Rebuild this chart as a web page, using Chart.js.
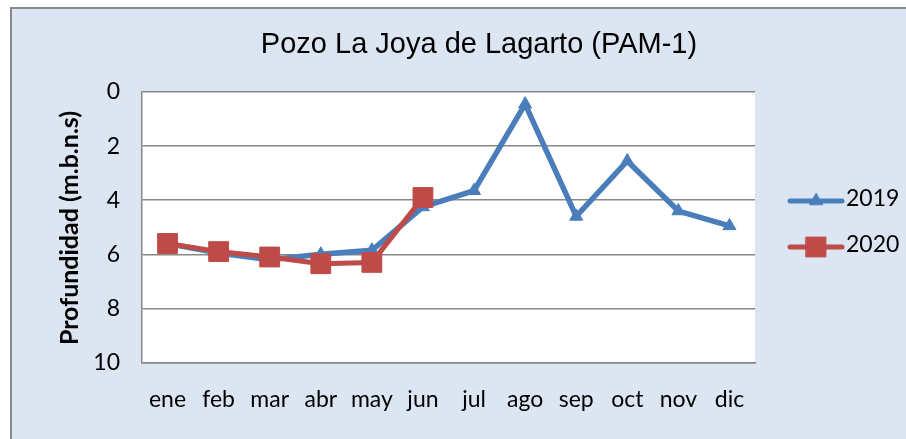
<!DOCTYPE html>
<html><head><meta charset="utf-8">
<script src="https://cdn.jsdelivr.net/npm/chart.js@4/dist/chart.umd.min.js"></script>
<style>html,body{margin:0;padding:0;background:#fff;overflow:hidden}canvas{display:block}</style>
</head><body>
<canvas id="c" width="906" height="439"></canvas>
<script>
const chartTitle = 'Pozo La Joya de Lagarto (PAM-1)';
const yAxisTitle = 'Profundidad (m.b.n.s)';
const months = ['ene','feb','mar','abr','may','jun','jul','ago','sep','oct','nov','dic'];
const seriesNames = ['2019','2020'];
const values2019 = [5.6, 5.95, 6.2, 6.0, 5.85, 4.25, 3.65, 0.45, 4.6, 2.55, 4.4, 4.95];
const values2020 = [5.6, 5.9, 6.1, 6.35, 6.3, 3.9, null, null, null, null, null, null];
const yMin = 0, yMax = 10, yStep = 2;

const BLUE = '#4A7EBB', RED = '#BE4B48';
const LABEL_FONT = 'Lato';
const LABEL_SIZE = 23;

function drawMarker(ctx, style, x, y, r, color) {
  ctx.save();
  ctx.fillStyle = color; ctx.strokeStyle = color; ctx.lineWidth = 1;
  ctx.beginPath();
  if (style === 'triangle') {
    const s = Math.sin(Math.PI / 3) * r;
    ctx.moveTo(x, y - r); ctx.lineTo(x - s, y + r / 2); ctx.lineTo(x + s, y + r / 2); ctx.closePath();
  } else {
    const h = Math.SQRT1_2 * r;
    ctx.rect(x - h, y - h, 2 * h, 2 * h);
  }
  ctx.fill(); ctx.stroke();
  ctx.restore();
}

const decor = {
  id: 'decor',
  beforeDraw(chart) {
    const ctx = chart.ctx, a = chart.chartArea;
    ctx.save();
    ctx.fillStyle = '#ffffff'; ctx.fillRect(0, 0, chart.width, chart.height);
    ctx.fillStyle = '#DCE6F2'; ctx.fillRect(11, 8, chart.width, chart.height);
    ctx.strokeStyle = '#8a8a8a'; ctx.lineWidth = 2;
    ctx.strokeRect(11, 8, chart.width + 10, chart.height + 10);
    ctx.fillStyle = '#ffffff'; ctx.fillRect(a.left, a.top, a.right - a.left, a.bottom - a.top);
    ctx.restore();
  },
  afterDraw(chart) {
    const ctx = chart.ctx;
    ctx.save();
    // main title
    ctx.fillStyle = '#000';
    ctx.font = '29px "Liberation Sans", Arial, sans-serif';
    ctx.textAlign = 'center'; ctx.textBaseline = 'alphabetic';
    ctx.fillText(chartTitle, 479, 53);
    // y axis title
    ctx.save();
    ctx.translate(70, 228);
    ctx.rotate(-Math.PI / 2);
    ctx.font = 'bold 25px ' + LABEL_FONT;
    ctx.textBaseline = 'middle';
    ctx.fillText(yAxisTitle, 0, 0);
    ctx.restore();
    // legend
    const rows = [201, 247];
    chart.data.datasets.forEach((ds, i) => {
      const y = rows[i];
      ctx.strokeStyle = ds.borderColor; ctx.lineWidth = 5; ctx.lineCap = 'round';
      ctx.beginPath(); ctx.moveTo(790, y); ctx.lineTo(842, y); ctx.stroke();
      drawMarker(ctx, ds.pointStyle, 816, y, ds.pointRadius, ds.borderColor);
      ctx.fillStyle = '#000';
      ctx.font = LABEL_SIZE + 'px ' + LABEL_FONT;
      ctx.textAlign = 'left'; ctx.textBaseline = 'middle';
      ctx.fillText(ds.label, 846, y - 2);
    });
    ctx.restore();
  }
};

new Chart(document.getElementById('c'), {
  type: 'line',
  data: {
    labels: months,
    datasets: [
      { label: seriesNames[0], data: values2019, borderColor: BLUE, backgroundColor: BLUE,
        borderWidth: 5.5, pointStyle: 'triangle', pointRadius: 7.5, pointBorderWidth: 1,
        pointBackgroundColor: BLUE, pointBorderColor: BLUE, tension: 0, order: 2 },
      { label: seriesNames[1], data: values2020, borderColor: RED, backgroundColor: RED,
        borderWidth: 5, pointStyle: 'rect', pointRadius: 14, pointBorderWidth: 1,
        pointBackgroundColor: RED, pointBorderColor: RED, tension: 0, order: 1, spanGaps: false }
    ]
  },
  options: {
    responsive: false,
    animation: false,
    devicePixelRatio: 1,
    layout: { padding: { top: 92, right: 151, bottom: 0, left: 0 } },
    plugins: { legend: { display: false }, title: { display: false }, tooltip: { enabled: false } },
    scales: {
      x: {
        offset: true,
        grid: { display: false, drawTicks: false },
        border: { display: true, color: '#888', width: 1.5 },
        ticks: { color: '#000', font: { family: LABEL_FONT, size: LABEL_SIZE }, padding: 23, maxRotation: 0, autoSkip: false },
        afterFit(scale) { scale.height = 76.5; }
      },
      y: {
        reverse: true, min: yMin, max: yMax,
        grid: { color: '#888', lineWidth: 1.5, drawTicks: false },
        border: { display: true, color: '#888', width: 1.5 },
        ticks: { stepSize: yStep, color: '#000', font: { family: LABEL_FONT, size: LABEL_SIZE }, padding: 22 },
        afterFit(scale) { scale.width = 142; }
      }
    }
  },
  plugins: [decor]
});
</script>
</body></html>
